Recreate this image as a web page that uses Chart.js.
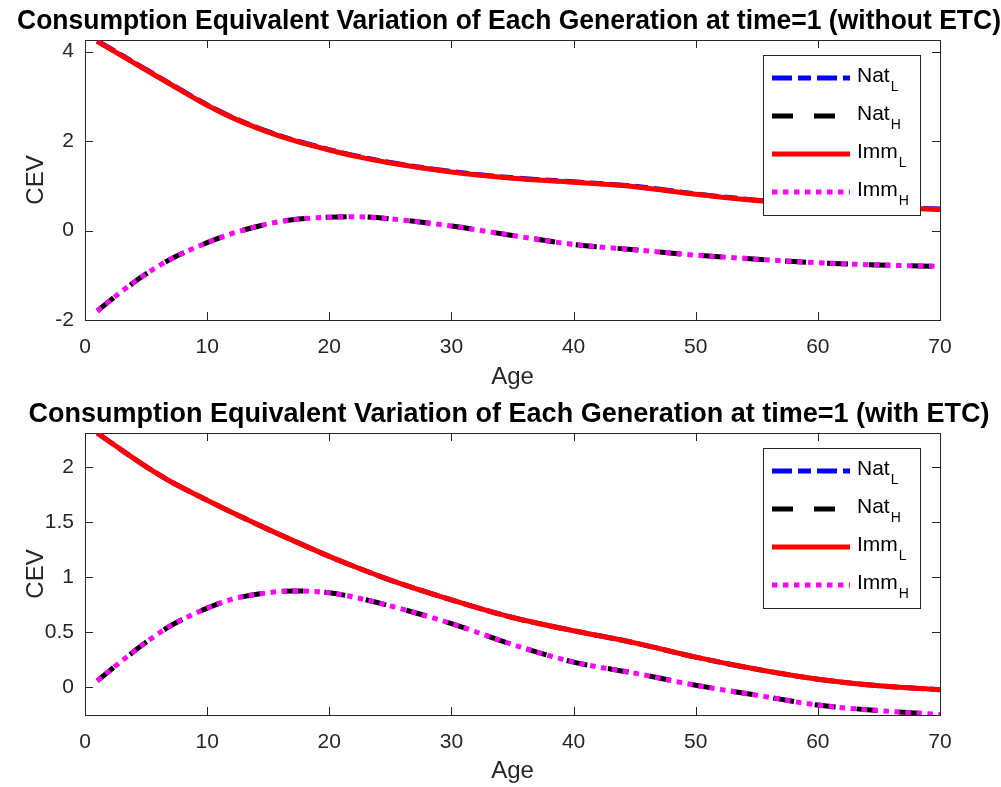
<!DOCTYPE html>
<html>
<head>
<meta charset="utf-8">
<script src="https://cdn.jsdelivr.net/npm/chart.js@4.4.1/dist/chart.umd.min.js"></script>
<style>
  body { margin: 0; background: #fff; width: 1001px; height: 787px; overflow: hidden; }
  .panel { position: absolute; left: 0; width: 1001px; }
  #topPanel { top: 0; height: 393px; }
  #bottomPanel { top: 393px; height: 394px; }
</style>
</head>
<body>
<div class="panel" id="topPanel"><canvas id="cevNoEtc"></canvas></div>
<div class="panel" id="bottomPanel"><canvas id="cevEtc"></canvas></div>
<script>
// Age (x axis)
const ages = [1, 3, 5, 7, 10, 12, 15, 17, 20, 22, 25, 30, 35, 40, 45, 50, 55, 60, 65, 70];

// without ETC
const natL_noEtc = [4.24, 3.92, 3.60, 3.28, 2.81, 2.54, 2.21, 2.03, 1.81, 1.68, 1.52, 1.32, 1.18, 1.09, 0.99, 0.82, 0.68, 0.59, 0.53, 0.48];
const natH_noEtc = [-1.80, -1.36, -0.97, -0.64, -0.27, -0.07, 0.15, 0.24, 0.30, 0.31, 0.26, 0.10, -0.11, -0.31, -0.43, -0.55, -0.64, -0.72, -0.77, -0.80];
const immL_noEtc = [4.23, 3.91, 3.59, 3.27, 2.80, 2.53, 2.20, 2.02, 1.80, 1.67, 1.51, 1.31, 1.17, 1.08, 0.98, 0.81, 0.67, 0.58, 0.52, 0.47];
const immH_noEtc = [-1.80, -1.36, -0.97, -0.64, -0.27, -0.07, 0.15, 0.24, 0.30, 0.31, 0.26, 0.10, -0.11, -0.31, -0.43, -0.55, -0.64, -0.72, -0.77, -0.80];

// with ETC
const natL_etc = [2.31, 2.155, 2.005, 1.87, 1.70, 1.59, 1.435, 1.335, 1.19, 1.10, 0.975, 0.795, 0.635, 0.515, 0.405, 0.275, 0.165, 0.075, 0.015, -0.02];
const natH_etc = [0.06, 0.24, 0.41, 0.56, 0.72, 0.80, 0.86, 0.876, 0.86, 0.82, 0.74, 0.58, 0.39, 0.23, 0.13, 0.02, -0.07, -0.16, -0.21, -0.245];
const immL_etc = [2.31, 2.155, 2.005, 1.87, 1.70, 1.59, 1.435, 1.335, 1.19, 1.10, 0.975, 0.795, 0.635, 0.515, 0.405, 0.275, 0.165, 0.075, 0.015, -0.02];
const immH_etc = [0.06, 0.24, 0.41, 0.56, 0.72, 0.80, 0.86, 0.876, 0.86, 0.82, 0.74, 0.58, 0.39, 0.23, 0.13, 0.02, -0.07, -0.16, -0.21, -0.245];

const xTicks = [0, 10, 20, 30, 40, 50, 60, 70];

const FONT = '"Liberation Sans", Arial, Helvetica, sans-serif';
const AXIS_COLOR = '#262626';

// box with inward ticks like matlab
const boxPlugin = {
  id: 'matlabBox',
  beforeDatasetsDraw(chart) {
    const ctx = chart.ctx;
    const a = chart.chartArea;
    const len = 8;
    ctx.save();
    ctx.strokeStyle = AXIS_COLOR;
    ctx.lineWidth = 1;
    ctx.strokeRect(Math.round(a.left) + 0.5, Math.round(a.top) + 0.5, Math.round(a.right - a.left), Math.round(a.bottom - a.top));
    ctx.beginPath();
    chart.scales.x.ticks.forEach(t => {
      const px = Math.round(chart.scales.x.getPixelForValue(t.value)) + 0.5;
      ctx.moveTo(px, a.bottom); ctx.lineTo(px, a.bottom - len);
      ctx.moveTo(px, a.top); ctx.lineTo(px, a.top + len);
    });
    chart.scales.y.ticks.forEach(t => {
      const py = Math.round(chart.scales.y.getPixelForValue(t.value)) + 0.5;
      ctx.moveTo(a.left, py); ctx.lineTo(a.left + len, py);
      ctx.moveTo(a.right, py); ctx.lineTo(a.right - len, py);
    });
    ctx.stroke();
    ctx.restore();
  }
};

// legend with subscripts (Nat_L -> Nat + L)
const legendPlugin = {
  id: 'cevLegend',
  afterDraw(chart, args, opts) {
    const ctx = chart.ctx;
    ctx.save();
    ctx.fillStyle = '#fff';
    ctx.fillRect(opts.x, opts.y, opts.w, opts.h);
    ctx.strokeStyle = AXIS_COLOR;
    ctx.lineWidth = 1;
    ctx.strokeRect(opts.x + 0.5, opts.y + 0.5, opts.w, opts.h);
    chart.data.datasets.forEach((ds, i) => {
      const cy = opts.y + opts.firstRow + i * opts.rowGap;
      ctx.beginPath();
      ctx.strokeStyle = ds.borderColor;
      ctx.lineWidth = ds.borderWidth;
      ctx.setLineDash(ds.borderDash || []);
      ctx.moveTo(opts.x + 9, cy);
      ctx.lineTo(opts.x + 87, cy);
      ctx.stroke();
      ctx.setLineDash([]);
      const parts = ds.label.split('_');
      ctx.fillStyle = '#000';
      ctx.textBaseline = 'alphabetic';
      ctx.font = '21px ' + FONT;
      const tx = opts.x + 94;
      ctx.fillText(parts[0], tx, cy + 4);
      const w = ctx.measureText(parts[0]).width;
      ctx.font = '14px ' + FONT;
      ctx.fillText(parts[1], tx + w + 1, cy + 13);
    });
    ctx.restore();
  }
};

function makeChart(canvasId, titleText, series, yMin, yMax, yStep, xAxisHeight) {
  const styles = [
    { label: 'Nat_L', color: '#0000ff', dash: [20, 6, 13, 6], width: 5, order: 4 },
    { label: 'Nat_H', color: '#000000', dash: [21, 21], width: 5, order: 3 },
    { label: 'Imm_L', color: '#ff0000', dash: [], width: 5, order: 2 },
    { label: 'Imm_H', color: '#ff00ff', dash: [5.5, 5.5], width: 5, order: 1 }
  ];
  const datasets = styles.map((s, i) => ({
    label: s.label,
    data: ages.map((a, k) => ({ x: a, y: series[i][k] })),
    borderColor: s.color,
    backgroundColor: s.color,
    borderWidth: s.width,
    borderDash: s.dash,
    borderCapStyle: 'butt',
    cubicInterpolationMode: 'monotone',
    pointRadius: 0,
    fill: false,
    order: s.order
  }));

  return new Chart(document.getElementById(canvasId), {
    type: 'line',
    data: { datasets: datasets },
    plugins: [boxPlugin, legendPlugin],
    options: {
      responsive: true,
      maintainAspectRatio: false,
      animation: false,
      layout: { padding: { left: 17, right: 0, top: 0, bottom: 0 } },
      plugins: {
        legend: { display: false },
        tooltip: { enabled: false },
        title: {
          display: true,
          text: titleText,
          color: '#000',
          font: { family: FONT, size: 27, weight: 'bold' },
          padding: { top: 5, bottom: 2.6 }
        },
        cevLegend: { x: 763, y: 55, w: 157, h: 160, firstRow: 23, rowGap: 38 }
      },
      scales: {
        x: {
          type: 'linear',
          min: 0,
          max: 70,
          afterBuildTicks: scale => { scale.ticks = xTicks.map(v => ({ value: v })); },
          afterFit: scale => { scale.height = xAxisHeight; },
          grid: { display: false, drawTicks: false },
          border: { display: false },
          ticks: { color: AXIS_COLOR, padding: 15, maxRotation: 0, font: { family: FONT, size: 21 } },
          title: { display: true, text: 'Age', color: AXIS_COLOR, font: { family: FONT, size: 24 }, padding: { top: 0, bottom: 1 } }
        },
        y: {
          min: yMin,
          max: yMax,
          afterFit: scale => { scale.width = 68; },
          grid: { display: false, drawTicks: false },
          border: { display: false },
          ticks: { stepSize: yStep, includeBounds: false, color: AXIS_COLOR, padding: 11, font: { family: FONT, size: 21 },
                   callback: v => String(v) },
          title: { display: true, text: 'CEV', color: AXIS_COLOR, font: { family: FONT, size: 24 }, padding: { top: 5, bottom: 0 } }
        },
        // empty right margin
        yRight: {
          position: 'right',
          afterFit: scale => { scale.width = 61; },
          grid: { display: false, drawTicks: false },
          border: { display: false },
          ticks: { display: false }
        }
      }
    }
  });
}

makeChart('cevNoEtc', 'Consumption Equivalent Variation of Each Generation at time=1 (without ETC)',
  [natL_noEtc, natH_noEtc, immL_noEtc, immH_noEtc], -2, 4.26, 2, 73);
makeChart('cevEtc', 'Consumption Equivalent Variation of Each Generation at time=1 (with ETC)',
  [natL_etc, natH_etc, immL_etc, immH_etc], -0.25, 2.31, 0.5, 72);
</script>
</body>
</html>
